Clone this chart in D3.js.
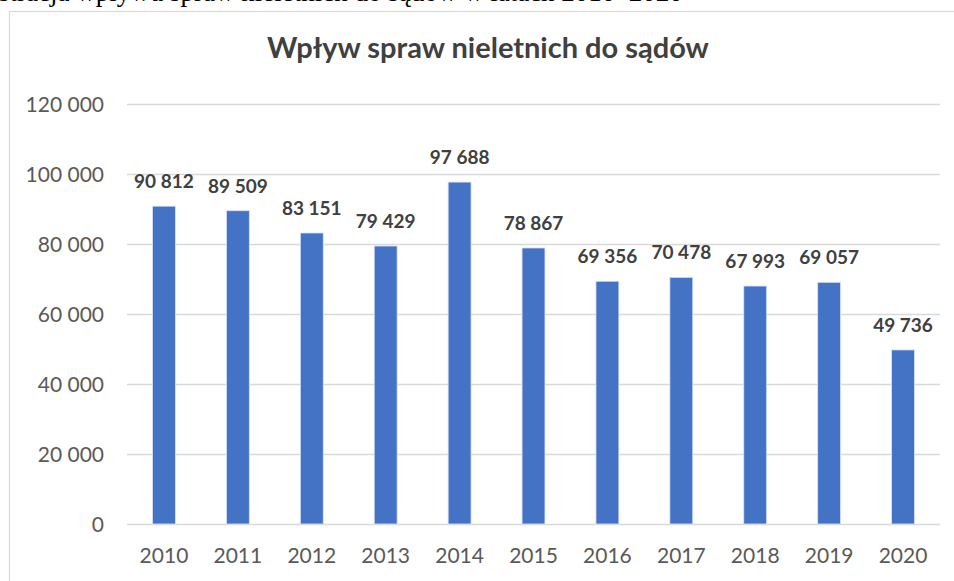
<!DOCTYPE html>
<html lang="pl">
<head>
    <meta charset="UTF-8">
    <title>Wpływ spraw nieletnich do sądów</title>
    <style>
        html, body { margin: 0; padding: 0; background: #fff; overflow: hidden; }
        svg { display: block; }
    </style>
</head>
<body>
    <div id="chart"></div>

    <script src="https://d3js.org/d3.v7.min.js"></script>
    <script>
        // dane
        const years = ["2010", "2011", "2012", "2013", "2014", "2015", "2016", "2017", "2018", "2019", "2020"];
        const cases = [90812, 89509, 83151, 79429, 97688, 78867, 69356, 70478, 67993, 69057, 49736];
        const yTicks = [0, 20000, 40000, 60000, 80000, 100000, 120000];
        const title = "Wpływ spraw nieletnich do sądów";
        const caption = "Ilustracja wpływu spraw nieletnich do sądów w latach 2010–2020";

        const width = 954;
        const height = 581;
        const margin = { top: 104, right: 14, bottom: 57, left: 127 };

        const fmt = n => d3.format(",")(n).replace(/,/g, " ");

        const svg = d3.select("#chart").append("svg")
            .attr("width", width)
            .attr("height", height);

        // podpis nad wykresem, obcięty górną krawędzią jak na oryginale
        const cap = svg.append("text")
            .attr("x", 0)
            .attr("y", 0.5)
            .style("font-family", "'Liberation Serif', 'Times New Roman', serif")
            .style("font-size", "27px")
            .style("fill", "#000")
            .text(caption);
        const jPos = cap.node().getStartPositionOfChar(caption.indexOf("j")).x;
        cap.attr("x", 50 - jPos);

        // ramka wykresu
        svg.append("rect")
            .attr("x", 9.5)
            .attr("y", 11.5)
            .attr("width", 1000)
            .attr("height", 700)
            .attr("fill", "#fff")
            .attr("stroke", "#d9d9d9")
            .attr("stroke-width", 1.2);

        const x = d3.scaleBand()
            .domain(years)
            .range([margin.left, width - margin.right])
            .paddingInner(0.69)
            .paddingOuter(0.345);

        const y = d3.scaleLinear()
            .domain([0, 120000])
            .range([height - margin.bottom, margin.top]);

        // linie siatki
        svg.append("g")
            .selectAll("line")
            .data(yTicks)
            .enter()
            .append("line")
            .attr("x1", margin.left)
            .attr("x2", width - margin.right)
            .attr("y1", d => Math.round(y(d)) + 0.5)
            .attr("y2", d => Math.round(y(d)) + 0.5)
            .attr("stroke", "#d9d9d9")
            .attr("stroke-width", 1.3);

        // etykiety osi Y
        const yAxis = svg.append("g")
            .attr("transform", `translate(${margin.left - 23}, 0)`)
            .call(d3.axisLeft(y).tickValues(yTicks).tickFormat(fmt).tickSize(0).tickPadding(0));
        yAxis.select(".domain").remove();
        yAxis.selectAll("text")
            .style("font-family", "Lato, 'Open Sans', sans-serif")
            .style("font-size", "21px")
            .style("fill", "#595959")
            .attr("dy", "0.36em");

        // etykiety osi X
        const xAxis = svg.append("g")
            .attr("transform", `translate(0, ${height - margin.bottom})`)
            .call(d3.axisBottom(x).tickSize(0).tickPadding(0));
        xAxis.select(".domain").remove();
        xAxis.selectAll("text")
            .attr("y", 39)
            .attr("dy", 0)
            .style("font-family", "Lato, 'Open Sans', sans-serif")
            .style("font-size", "21px")
            .style("fill", "#595959");

        // słupki
        svg.append("g")
            .selectAll("rect")
            .data(cases)
            .enter()
            .append("rect")
            .attr("x", (d, i) => x(years[i]))
            .attr("y", d => y(d))
            .attr("width", x.bandwidth())
            .attr("height", d => y(0) - y(d))
            .attr("fill", "#4472c4")
            .attr("stroke", "#dbe4f5")
            .attr("stroke-width", 0.8);

        // etykiety wartości
        svg.append("g")
            .selectAll("text")
            .data(cases)
            .enter()
            .append("text")
            .attr("x", (d, i) => x(years[i]) + x.bandwidth() / 2)
            .attr("y", d => y(d) - 18)
            .attr("text-anchor", "middle")
            .style("font-family", "Lato, 'Open Sans', sans-serif")
            .style("font-weight", "bold")
            .style("font-size", "19px")
            .style("fill", "#404040")
            .text(fmt);

        // tytuł
        svg.append("text")
            .attr("x", 488)
            .attr("y", 58)
            .attr("text-anchor", "middle")
            .style("font-family", "Lato, 'Open Sans', sans-serif")
            .style("font-weight", "bold")
            .style("font-size", "29px")
            .style("fill", "#404040")
            .text(title);
    </script>
</body>
</html>
